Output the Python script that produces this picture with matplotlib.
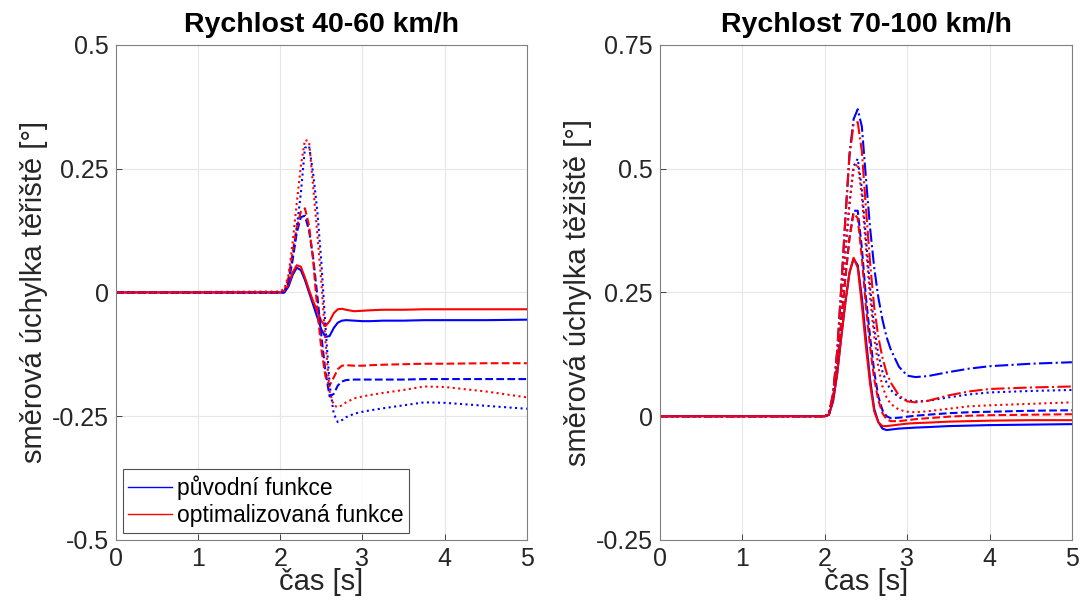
import matplotlib.pyplot as plt

plt.rcParams['font.family'] = ['Liberation Sans', 'DejaVu Sans']

# time axis [s]
t = [0, 2.0, 2.05, 2.1, 2.15, 2.2, 2.25, 2.3, 2.35, 2.4, 2.45, 2.5, 2.55, 2.6, 2.65,
     2.7, 2.75, 2.8, 2.9, 3.0, 3.1, 3.25, 3.5, 3.75, 4.0, 4.5, 5.0]

# Rychlost 40-60 km/h (puv = puvodni, opt = optimalizovana)
puv40 = [0, 0, 0.0, 0.012, 0.035, 0.05, 0.045, 0.025, 0.0, -0.025, -0.05, -0.075, -0.09, -0.088, -0.072,
         -0.061, -0.057, -0.056, -0.057, -0.058, -0.058, -0.057, -0.057, -0.056, -0.056, -0.056, -0.055]
opt40 = [0, 0, 0.002, 0.016, 0.04, 0.055, 0.052, 0.03, 0.005, -0.018, -0.037, -0.058, -0.068, -0.058, -0.042,
         -0.034, -0.033, -0.035, -0.038, -0.037, -0.036, -0.035, -0.035, -0.034, -0.034, -0.034, -0.034]
puv50 = [0, 0, 0.0, 0.02, 0.065, 0.12, 0.152, 0.155, 0.125, 0.07, -0.005, -0.088, -0.16, -0.21, -0.205,
         -0.188, -0.18, -0.177, -0.176, -0.176, -0.176, -0.176, -0.176, -0.175, -0.175, -0.175, -0.175]
opt50 = [0, 0, 0.003, 0.03, 0.08, 0.13, 0.163, 0.17, 0.135, 0.065, -0.035, -0.115, -0.17, -0.188, -0.172,
         -0.155, -0.148, -0.147, -0.148, -0.148, -0.147, -0.146, -0.145, -0.144, -0.144, -0.143, -0.143]
puv60 = [0, 0, 0.0, 0.02, 0.07, 0.13, 0.2, 0.292, 0.296, 0.24, 0.165, 0.06, -0.07, -0.185, -0.245,
         -0.262, -0.258, -0.252, -0.245, -0.241, -0.238, -0.234, -0.228, -0.222, -0.223, -0.229, -0.235]
opt60 = [0, 0.002, 0.008, 0.035, 0.1, 0.18, 0.255, 0.308, 0.305, 0.214, 0.12, 0.02, -0.1, -0.2, -0.228,
         -0.232, -0.228, -0.222, -0.214, -0.21, -0.207, -0.203, -0.197, -0.19, -0.191, -0.2, -0.212]

# Rychlost 70-100 km/h
puv70 = [0, 0, 0.003, 0.03, 0.085, 0.16, 0.23, 0.29, 0.318, 0.305, 0.24, 0.155, 0.075, 0.015, -0.012,
         -0.025, -0.028, -0.027, -0.025, -0.024, -0.023, -0.022, -0.02, -0.019, -0.018, -0.017, -0.016]
opt70 = [0, 0, 0.003, 0.03, 0.085, 0.16, 0.23, 0.29, 0.32, 0.3, 0.225, 0.14, 0.065, 0.01, -0.012,
         -0.02, -0.02, -0.019, -0.017, -0.015, -0.014, -0.013, -0.011, -0.01, -0.009, -0.008, -0.008]
puv80 = [0, 0, 0.003, 0.035, 0.1, 0.19, 0.28, 0.36, 0.415, 0.415, 0.34, 0.24, 0.16, 0.09, 0.04,
         0.012, 0.0, -0.004, -0.003, -0.001, 0.001, 0.003, 0.006, 0.008, 0.009, 0.011, 0.012]
opt80 = [0, 0, 0.003, 0.035, 0.1, 0.19, 0.28, 0.36, 0.41, 0.4, 0.32, 0.22, 0.14, 0.075, 0.032,
         0.006, -0.006, -0.01, -0.01, -0.008, -0.006, -0.004, -0.001, 0.001, 0.002, 0.003, 0.004]
puv90 = [0, 0, 0.004, 0.04, 0.115, 0.22, 0.33, 0.43, 0.505, 0.52, 0.46, 0.36, 0.26, 0.18, 0.125,
         0.09, 0.068, 0.053, 0.038, 0.032, 0.03, 0.031, 0.038, 0.044, 0.048, 0.051, 0.053]
opt90 = [0, 0, 0.004, 0.04, 0.115, 0.22, 0.33, 0.43, 0.5, 0.51, 0.445, 0.34, 0.24, 0.16, 0.1,
         0.06, 0.038, 0.025, 0.013, 0.009, 0.008, 0.01, 0.015, 0.02, 0.022, 0.025, 0.028]
puv100 = [0, 0, 0.005, 0.045, 0.13, 0.26, 0.4, 0.53, 0.6, 0.62, 0.585, 0.48, 0.38, 0.3, 0.24,
          0.195, 0.16, 0.135, 0.1, 0.082, 0.079, 0.081, 0.089, 0.096, 0.101, 0.106, 0.109]
opt100 = [0, 0, 0.005, 0.045, 0.13, 0.26, 0.4, 0.525, 0.59, 0.594, 0.535, 0.42, 0.31, 0.22, 0.16,
          0.118, 0.088, 0.068, 0.042, 0.03, 0.028, 0.031, 0.042, 0.05, 0.055, 0.058, 0.06]

left_series = [(puv40, opt40, '-'), (puv50, opt50, '--'), (puv60, opt60, ':')]
right_series = [(puv70, opt70, '-'), (puv80, opt80, '--'), (puv90, opt90, ':'), (puv100, opt100, '-.')]

fig = plt.figure(figsize=(10.83, 6.15), dpi=100)
ax1 = fig.add_axes([0.107, 0.122, 0.3795, 0.805])
ax2 = fig.add_axes([0.6094, 0.122, 0.3804, 0.805])

gray = '#262626'


def style(ax, title, ylabel, yticks, ylabels):
    ax.set_xlim(0, 5)
    ax.set_ylim(yticks[0], yticks[-1])
    ax.set_xticks([0, 1, 2, 3, 4, 5])
    ax.set_yticks(yticks)
    ax.set_yticklabels(ylabels)
    ax.tick_params(direction='in', labelsize=18, colors=gray, length=4, width=0.6, pad=5)
    ax.grid(True, color='#e6e6e6', linewidth=0.8)
    ax.set_axisbelow(True)
    for s in ax.spines.values():
        s.set_color('#808080')
        s.set_linewidth(0.8)
    ax.set_title(title, fontsize=20.5, fontweight='bold', pad=9)
    ax.set_xlabel('čas [s]', fontsize=21, color=gray, labelpad=-2)
    ax.set_ylabel(ylabel, fontsize=21, color=gray, labelpad=3)


for puv, opt, ls in left_series:
    ax1.plot(t, puv, color='blue', linestyle=ls, linewidth=1.5)
    ax1.plot(t, opt, color='red', linestyle=ls, linewidth=1.5)

for puv, opt, ls in right_series:
    ax2.plot(t, puv, color='blue', linestyle=ls, linewidth=1.5)
    ax2.plot(t, opt, color='red', linestyle=ls, linewidth=1.5)

style(ax1, 'Rychlost 40-60 km/h', 'směrová úchylka těřiště [°]',
      [-0.5, -0.25, 0, 0.25, 0.5], ['-0.5', '-0.25', '0', '0.25', '0.5'])
style(ax2, 'Rychlost 70-100 km/h', 'směrová úchylka těžiště [°]',
      [-0.25, 0, 0.25, 0.5, 0.75], ['-0.25', '0', '0.25', '0.5', '0.75'])

h1, = ax1.plot([], [], color='blue', linewidth=1.0, label='původní funkce')
h2, = ax1.plot([], [], color='red', linewidth=1.0, label='optimalizovaná funkce')
leg = ax1.legend(handles=[h1, h2], loc='lower left', fontsize=16.5, handlelength=1.9,
                 handletextpad=0.2, borderpad=0.25, labelspacing=0.2, fancybox=False,
                 borderaxespad=0.3)
leg.get_frame().set_edgecolor('#262626')
leg.get_frame().set_linewidth(0.8)

fig.savefig('out.png', dpi=100)
